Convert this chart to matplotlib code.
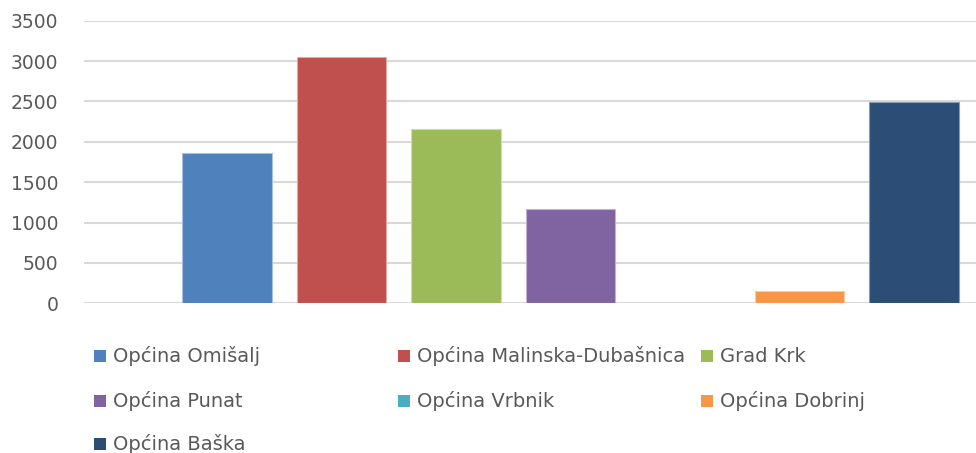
import matplotlib.pyplot as plt
from matplotlib.patches import Rectangle

# podaci
names = ["Općina Omišalj", "Općina Malinska-Dubašnica", "Grad Krk", "Općina Punat",
         "Općina Vrbnik", "Općina Dobrinj", "Općina Baška"]
values = [1866, 3055, 2160, 1167, 0, 149, 2496]
colors = ["#4F81BD", "#C0504D", "#9BBB59", "#8064A2", "#4BACC6", "#F79646", "#2C4D75"]
edges = ["#A7C0DE", "#E0A8A6", "#CDDDAC", "#BFB1D0", "#A5D5E2", "#FBCBA2", "#8A9BB0"]
yticks = [0, 500, 1000, 1500, 2000, 2500, 3000, 3500]

txt = "#595959"
plt.rcParams['font.family'] = ['DejaVu Sans']

fig = plt.figure(figsize=(9.76, 4.53), dpi=100)
ax = fig.add_axes([84/976, 1 - 303.3/453, 1 - 84/976, (303.3 - 20.7)/453])

pos = list(range(1, len(values) + 1))
ax.bar(pos, values, width=0.78, color=colors, edgecolor=edges, linewidth=0.8, zorder=3)

ax.set_xlim(-0.249, 7.54)
ax.set_ylim(0, 3500)
ax.set_yticks(yticks)
ax.set_yticklabels([str(v) for v in yticks])
ax.set_xticks([])
ax.yaxis.grid(True, color="#D9D9D9", linewidth=1.5, zorder=0)
ax.tick_params(axis='y', length=0, pad=18.5, labelsize=13.5, labelcolor=txt)
for s in ax.spines.values():
    s.set_visible(False)

# legenda (3 stupca, redom po redcima)
col_x = [94, 398, 701]
row_y = [355, 400, 443]
for i, (n, c) in enumerate(zip(names, colors)):
    r, k = divmod(i, 3)
    x, y = col_x[k], row_y[r]
    fig.patches.append(Rectangle((x / 976, 1 - (y + 7) / 453), 12 / 976, 12 / 453,
                                 transform=fig.transFigure, facecolor=c, edgecolor='none'))
    fig.text((x + 19) / 976, 1 - (y + 7) / 453, n, color=txt, fontsize=14,
             va='baseline', ha='left')

fig.savefig("out.png", dpi=100)
